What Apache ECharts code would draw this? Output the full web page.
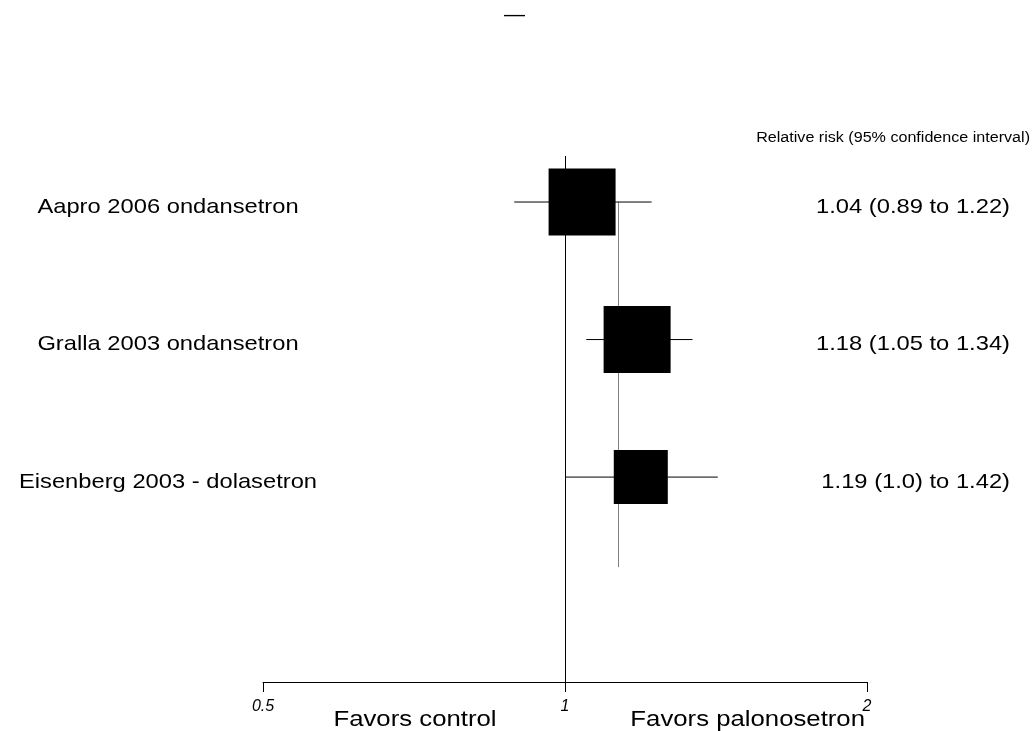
<!DOCTYPE html>
<html>
<head>
<meta charset="utf-8">
<script src="https://cdn.jsdelivr.net/npm/echarts@6/dist/echarts.min.js"></script>
<style>
html,body{margin:0;padding:0;background:#fff;}
#chart{width:1036px;height:731px;}
</style>
</head>
<body>
<div id="chart"></div>
<script>
const studies = ['Aapro 2006 ondansetron', 'Gralla 2003 ondansetron', 'Eisenberg 2003 - dolasetron'];
const relRisk = [1.04, 1.18, 1.19];
const ciLow = [0.89, 1.05, 1.0];
const ciHigh = [1.22, 1.34, 1.42];
const ciText = ['1.04 (0.89 to 1.22)', '1.18 (1.05 to 1.34)', '1.19 (1.0) to 1.42)'];
const weights = [1, 1, 0.65];
const xTicks = [0.5, 1, 2];
const nullValue = 1;
const pooledValue = 1.13;
const headerText = 'Relative risk (95% confidence interval)';
const favorsLabels = ['Favors control', 'Favors palonosetron'];
const titleText = '\u2014';

const FONT = '"Liberation Sans", Arial, sans-serif';
const chart = echarts.init(document.getElementById('chart'), null, {renderer: 'canvas'});

const studyData = studies.map((s, i) => [i + 1, relRisk[i], ciLow[i], ciHigh[i], weights[i]]);
// vertical reference lines: [x, yFrom(row), yTo(row), kind]
const refData = [[nullValue, 0.665, 4.49, 0], [pooledValue, 1, 3.655, 1]];

function renderStudy(params, api) {
  const i = params.dataIndex;
  const row = api.value(0);
  const lo = api.coord([api.value(2), row]);
  const hi = api.coord([api.value(3), row]);
  const c = api.coord([api.value(1), row]);
  const side = 67 * Math.sqrt(api.value(4));
  const cs = params.coordSys;
  return {
    type: 'group',
    children: [
      {type: 'line', shape: {x1: lo[0], y1: lo[1], x2: hi[0], y2: hi[1]}, style: {stroke: '#000', lineWidth: 1}, z2: 2},
      {type: 'rect', shape: {x: c[0] - side / 2, y: c[1] - side / 2, width: side, height: side}, style: {fill: '#000'}, z2: 3},
      {type: 'text', x: cs.x - 95, y: c[1] + 5, scaleX: 1.13,
        style: {text: studies[i], align: 'center', verticalAlign: 'middle', font: '21px ' + FONT, fill: '#000'}},
      {type: 'text', x: 1010, y: c[1] + 5, scaleX: 1.13,
        style: {text: ciText[i], align: 'right', verticalAlign: 'middle', font: '21px ' + FONT, fill: '#000'}}
    ]
  };
}

function renderRef(params, api) {
  const a = api.coord([api.value(0), api.value(1)]);
  const b = api.coord([api.value(0), api.value(2)]);
  const x = Math.round(a[0]) + 0.5;
  return {
    type: 'line',
    shape: {x1: x, y1: a[1], x2: x, y2: b[1]},
    style: {stroke: api.value(3) === 0 ? '#000' : '#808080', lineWidth: 1},
    z2: 1
  };
}

chart.setOption({
  animation: false,
  backgroundColor: '#fff',
  grid: {left: 263, right: 169, top: 64.5, bottom: 49, containLabel: false},
  xAxis: {
    type: 'log', logBase: 2, min: xTicks[0], max: xTicks[xTicks.length - 1],
    axisLine: {show: true, onZero: false, lineStyle: {color: '#000', width: 1}},
    axisTick: {show: true, length: 10, lineStyle: {color: '#000'}},
    minorTick: {show: false},
    splitLine: {show: false},
    axisLabel: {
      margin: 17, color: '#000', fontStyle: 'italic', fontSize: 16, fontFamily: FONT,
      formatter: v => { const r = Math.round(v * 100) / 100; return xTicks.indexOf(r) >= 0 ? String(r) : ''; }
    }
  },
  yAxis: {
    type: 'value', inverse: true, min: 0, max: 4.49,
    show: false
  },
  graphic: [
    {type: 'text', left: 504, top: 5, style: {text: titleText, font: '21px ' + FONT, fill: '#000'}},
    {type: 'text', right: 6, top: 131, scaleX: 1.15,
      style: {text: headerText, font: '14px ' + FONT, fill: '#000', align: 'right'}},
    {type: 'text', x: 415, y: 720, scaleX: 1.17,
      style: {text: favorsLabels[0], font: '22px ' + FONT, fill: '#000', align: 'center', verticalAlign: 'middle'}},
    {type: 'text', x: 865, y: 720, scaleX: 1.17,
      style: {text: favorsLabels[1], font: '22px ' + FONT, fill: '#000', align: 'right', verticalAlign: 'middle'}}
  ],
  series: [
    {type: 'custom', renderItem: renderRef, data: refData, encode: {x: 0, y: [1, 2]}, clip: false, z: 1, silent: true},
    {type: 'custom', renderItem: renderStudy, data: studyData, encode: {x: [1, 2, 3], y: 0}, clip: false, z: 2, silent: true}
  ]
});
</script>
</body>
</html>
